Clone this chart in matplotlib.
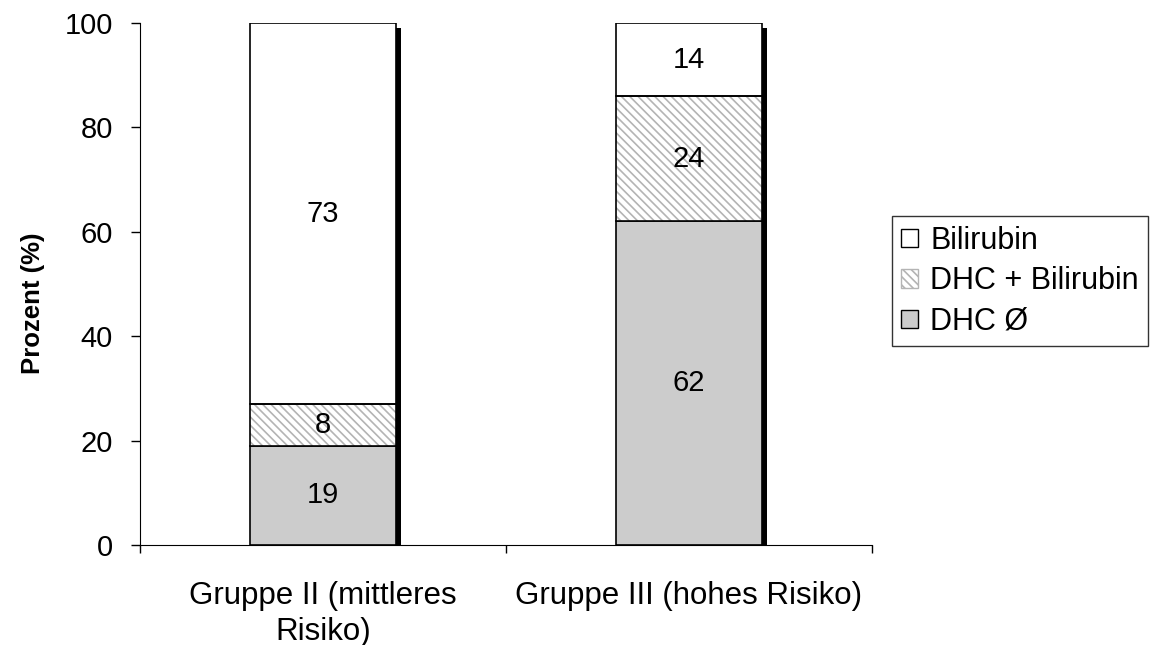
import numpy as np
import matplotlib.pyplot as plt
from matplotlib.patches import Patch

plt.rcParams['font.family'] = ['Liberation Sans', 'DejaVu Sans']
plt.rcParams['hatch.linewidth'] = 1.2

# Datos
gruppen = ['Gruppe II (mittleres\nRisiko)', 'Gruppe III (hohes Risiko)']
dhc_leer = [19, 62]
dhc_bili = [8, 24]
bilirubin = [73, 14]
serien = ['Bilirubin', 'DHC + Bilirubin', 'DHC Ø']

fig = plt.figure(figsize=(11.5, 6.45), dpi=100)
ax = fig.add_axes([0.1217, 0.155, 0.6366, 0.8093])

x = np.arange(len(gruppen))
w = 0.4
hatch = '\\' * 4
grau = '#cccccc'
hgrau = '#b4b4b4'

# Schatten der Balken
ax.bar(x + 0.014, 99.1, w, color='black', zorder=1)

b1 = np.array(dhc_leer)
b2 = b1 + np.array(dhc_bili)

ax.bar(x, dhc_leer, w, color=grau, edgecolor='black', linewidth=1.2, zorder=2)
ax.bar(x, dhc_bili, w, bottom=b1, color='white', edgecolor=hgrau,
       hatch=hatch, linewidth=0, zorder=2)
ax.bar(x, dhc_bili, w, bottom=b1, fill=False, edgecolor='black', linewidth=1.2, zorder=3)
ax.bar(x, bilirubin, w, bottom=b2, color='white', edgecolor='black', linewidth=1.2, zorder=2)

# Beschriftungen
fs = 21
for i in range(len(x)):
    ax.text(x[i], dhc_leer[i] / 2, str(dhc_leer[i]), ha='center', va='center', fontsize=fs, zorder=4)
    ax.text(x[i], b1[i] + dhc_bili[i] / 2, str(dhc_bili[i]), ha='center', va='center', fontsize=fs, zorder=4)
    ax.text(x[i], b2[i] + bilirubin[i] / 2, str(bilirubin[i]), ha='center', va='center', fontsize=fs, zorder=4)

ax.set_xlim(-0.5, 1.5)
ax.set_ylim(0, 100)
ax.set_yticks(np.arange(0, 101, 20))
ax.set_xticks([-0.5, 0.5, 1.5])
ax.set_xticklabels([])
ax.set_xticks(x, minor=True)
ax.set_xticklabels(gruppen, minor=True, fontsize=22.5, linespacing=1.25)
ax.tick_params(axis='x', which='minor', length=0, pad=26)
ax.tick_params(axis='x', which='major', length=6, width=1, direction='out')
ax.tick_params(axis='y', length=6.5, width=1, labelsize=fs, pad=13)
ax.spines['right'].set_visible(False)
ax.spines['top'].set_visible(False)
ax.set_ylabel('Prozent (%)', fontsize=18.5, fontweight='bold', labelpad=14, y=0.464)

handles = [
    Patch(facecolor='white', edgecolor='black', linewidth=1),
    Patch(facecolor='white', edgecolor=hgrau, hatch=hatch, linewidth=1),
    Patch(facecolor=grau, edgecolor='black', linewidth=1),
]
leg = fig.legend(handles, serien, loc='center left', bbox_to_anchor=(0.7757, 0.564),
                 fontsize=22, frameon=True, fancybox=False, handlelength=0.55,
                 handleheight=0.55, handletextpad=0.4, borderpad=0.3, labelspacing=0.35,
                 borderaxespad=0)
leg.get_frame().set_edgecolor('black')
leg.get_frame().set_linewidth(1)

fig.savefig('out.png', dpi=100)
